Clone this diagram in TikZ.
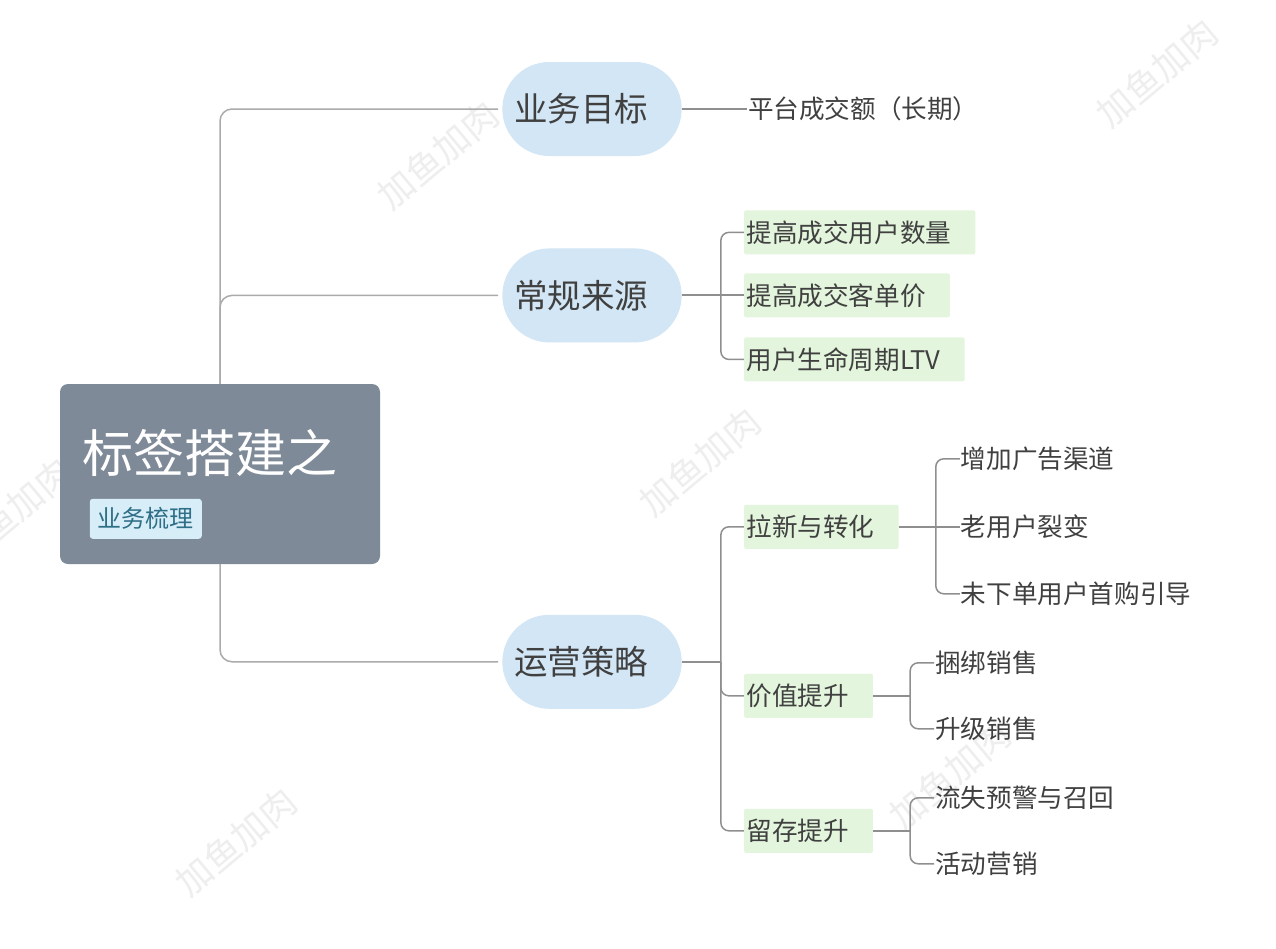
\documentclass[tikz,border=0pt]{standalone}
\usepackage{fontspec}
\usepackage{tikz}
\usetikzlibrary{positioning,shapes.misc}
\newfontfamily\cjk{Noto Sans CJK SC}
\definecolor{rootslate}{HTML}{7F8A98}
\definecolor{topicblue}{HTML}{D2E6F5}
\definecolor{subgreen}{HTML}{E3F5DC}
\definecolor{tagblue}{HTML}{D7EEF8}
\definecolor{tagteal}{HTML}{2E6E86}
\definecolor{inkgray}{HTML}{404040}
\definecolor{trunkgray}{HTML}{ABABAB}
\definecolor{limbgray}{HTML}{8F8F8F}
\definecolor{markgray}{HTML}{EEEEEE}
\tikzset{
  rootbox/.style={
    fill=rootslate,
    rounded corners=8pt,
    minimum width=320pt,
    minimum height=180pt
  },
  roottitle/.style={
    inner sep=0pt,
    text=white,
    font={\cjk\fontsize{51pt}{56pt}\selectfont}
  },
  tagbox/.style={
    fill=tagblue,
    rounded corners=3pt,
    inner xsep=8pt,
    minimum height=40pt,
    text=tagteal,
    font={\cjk\fontsize{24pt}{28pt}\selectfont}
  },
  topic/.style={
    rounded rectangle,
    fill=topicblue,
    minimum width=186pt,
    minimum height=94pt,
    text=inkgray,
    execute at end node=\hspace*{22pt},
    font={\cjk\fontsize{33.5pt}{38pt}\selectfont}
  },
  subbox/.style={
    fill=subgreen,
    rounded corners=2pt,
    inner xsep=0pt,
    minimum height=44pt,
    text=inkgray,
    execute at begin node=\hspace*{2.5pt},
    execute at end node=\hspace*{24pt},
    font={\cjk\fontsize{25.6pt}{30pt}\selectfont}
  },
  leaf/.style={
    inner xsep=1pt,
    text=inkgray,
    font={\cjk\fontsize{25.6pt}{30pt}\selectfont}
  },
  trunk/.style={draw=trunkgray, line width=1.5pt, rounded corners=12pt, shorten >=4pt},
  stem/.style={draw=limbgray, line width=2pt},
  limb/.style={draw=limbgray, line width=1.5pt, rounded corners=8pt},
  watermark/.style={text=markgray, rotate=40, font={\cjk\fontsize{36pt}{36pt}\selectfont}}
}

\begin{document}
\begin{tikzpicture}

\path[use as bounding box, fill=white] (0,0) rectangle (1276pt,-948pt);

% Watermarks
\foreach \i/\x/\y in {1/438/155, 2/1157/73, 3/700/462, 4/950/775, 5/236/842, 6/12/512}
  \node[watermark] (wm\i) at (\x pt,-\y pt) {加鱼加肉};

% Central topic
\node[rootbox] (root) at (220pt,-474pt) {};
\node[roottitle, anchor=west] (title) at ([shift={(22pt,-69pt)}]root.north west) {标签搭建之};
\node[tagbox] (tag) at ([shift={(86pt,-135pt)}]root.north west) {业务梳理};

% Main topics
\node[topic] (goal) at (592pt,-109pt) {业务目标};
\node[topic, below=92pt of goal] (src) {常规来源};
\node[topic, below=272pt of src] (ops) {运营策略};

% Subtopics
\node[leaf, right=65pt of goal.east] (aim) {平台成交额（长期）};

\node[subbox, right=62pt of src.east, yshift=63pt] (kpi1) {提高成交用户数量};
\node[subbox, right=62pt of src.east] (kpi2) {提高成交客单价};
\node[subbox, right=62pt of src.east, yshift=-64pt] (kpi3) {用户生命周期LTV};

\node[subbox, right=62pt of ops.east, yshift=135pt] (new) {拉新与转化};
\node[subbox, right=62pt of ops.east, yshift=-34pt] (val) {价值提升};
\node[subbox, right=62pt of ops.east, yshift=-169pt] (keep) {留存提升};

\node[leaf, right=61pt of new.east, yshift=68pt] (ads) {增加广告渠道};
\node[leaf, right=61pt of new.east] (refer) {老用户裂变};
\node[leaf, right=61pt of new.east, yshift=-67pt] (first) {未下单用户首购引导};

\node[leaf, right=61pt of val.east, yshift=33pt] (bundle) {捆绑销售};
\node[leaf, right=61pt of val.east, yshift=-33pt] (upsell) {升级销售};

\node[leaf, right=61pt of keep.east, yshift=33pt] (churn) {流失预警与召回};
\node[leaf, right=61pt of keep.east, yshift=-33pt] (event) {活动营销};

% Forks
\coordinate (srcfork) at ([xshift=39pt]src.east);
\coordinate (opsfork) at ([xshift=39pt]ops.east);
\coordinate (newfork) at ([xshift=37pt]new.east);
\coordinate (valfork) at ([xshift=37pt]val.east);
\coordinate (keepfork) at ([xshift=37pt]keep.east);

% Root branches
\draw[trunk] (root.north) |- (goal.west);
\draw[trunk] (root.north) |- (src.west);
\draw[trunk] (root.south) |- (ops.west);

% Topic branches
\draw[stem] (goal.east) -- (aim.west);
\draw[stem] (src.east) -- (kpi2.west);
\draw[limb] (srcfork) |- (kpi1.west);
\draw[limb] (srcfork) |- (kpi3.west);

\draw[stem] (ops.east) -- (opsfork);
\draw[limb] (opsfork) |- (new.west);
\draw[limb] (opsfork) |- (val.west);
\draw[limb] (opsfork) |- (keep.west);

% Subtopic branches
\draw[stem] (new.east) -- (refer.west);
\draw[limb] (newfork) |- (ads.west);
\draw[limb] (newfork) |- (first.west);

\draw[stem] (val.east) -- (valfork);
\draw[limb] (valfork) |- (bundle.west);
\draw[limb] (valfork) |- (upsell.west);

\draw[stem] (keep.east) -- (keepfork);
\draw[limb] (keepfork) |- (churn.west);
\draw[limb] (keepfork) |- (event.west);

\end{tikzpicture}
\end{document}
